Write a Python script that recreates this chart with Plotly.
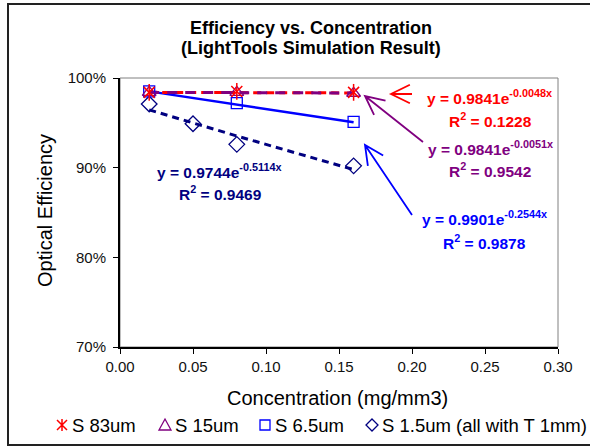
import math
import numpy as np
import plotly.graph_objects as go

# ---------------- data ----------------
x_83 = [0.02, 0.08, 0.16]
y_83 = [0.984, 0.985, 0.984]
x_15 = [0.02, 0.08, 0.16]
y_15 = [0.984, 0.984, 0.983]
x_65 = [0.02, 0.08, 0.16]
y_65 = [0.985, 0.972, 0.951]
x_15s = [0.02, 0.05, 0.08, 0.16]
y_15s = [0.971, 0.949, 0.926, 0.902]

series_names = ["S 83um", "S 15um", "S 6.5um", "S 1.5um (all with T 1mm)"]
# exponential trendline parameters as printed on the chart: y = a * e^(b x)
fit_a = [0.9841, 0.9841, 0.9901, 0.9744]
fit_b = [-0.0048, -0.0051, -0.2544, -0.5114]
fit_r2 = ["0.1228", "0.9542", "0.9878", "0.9469"]

x_ticks = [0.00, 0.05, 0.10, 0.15, 0.20, 0.25, 0.30]
y_ticks = [0.70, 0.80, 0.90, 1.00]
X_RANGE = [0.0, 0.30]
Y_RANGE = [0.70, 1.00]

RED, PURPLE, BLUE, NAVY = "#FF0000", "#800080", "#0000FF", "#000080"
FONT = "Arial, Liberation Sans, sans-serif"

W, H = 590, 446
L, R, T, B = 120, 32, 78, 99
PW, PH = W - L - R, H - T - B


def px(xp):
    return (xp - L) / PW


def py(yp):
    return (H - B - yp) / PH


fig = go.Figure()


def trend(xs, i, color, dash, width):
    xs = np.array(xs)
    ys = fit_a[i] * np.exp(fit_b[i] * xs)
    fig.add_trace(go.Scatter(x=xs, y=ys, mode="lines", showlegend=False,
                             line=dict(color=color, dash=dash, width=width),
                             hoverinfo="skip"))

trend(x_65, 2, BLUE, "solid", 2.5)
trend(x_15s, 3, NAVY, "7px,5px", 3)
trend(x_83, 0, RED, "8px,5px", 3)
trend(x_15, 1, PURPLE, "10px,8px", 3)

MK = {
    "diamond": dict(symbol="diamond-open", size=12, color=NAVY, line=dict(width=1.3, color=NAVY)),
    "square": dict(symbol="square-open", size=11, color=BLUE, line=dict(width=1.3, color=BLUE)),
    "triangle": dict(symbol="triangle-up-open", size=12, color=PURPLE, line=dict(width=1.3, color=PURPLE)),
    "x": dict(symbol="x-thin-open", size=11, color=RED, line=dict(width=1.5, color=RED)),
    "bar": dict(symbol="line-ns-open", size=12, color=RED, line=dict(width=1.5, color=RED)),
}

fig.add_trace(go.Scatter(x=x_15s, y=y_15s, mode="markers", name=series_names[3], marker=MK["diamond"]))
fig.add_trace(go.Scatter(x=x_65, y=y_65, mode="markers", name=series_names[2], marker=MK["square"]))
fig.add_trace(go.Scatter(x=x_15, y=y_15, mode="markers", name=series_names[1], marker=MK["triangle"]))
fig.add_trace(go.Scatter(x=x_83, y=y_83, mode="markers", name=series_names[0], marker=MK["x"]))
fig.add_trace(go.Scatter(x=x_83, y=y_83, mode="markers", showlegend=False, marker=MK["bar"]))

shapes = []
# outer chart border (its right edge lies outside the picture)
shapes.append(dict(type="path", xref="paper", yref="paper",
                   path=(f"M {px(700)},{py(4)} L {px(8)},{py(4)} L {px(8)},{py(445)} "
                         f"L {px(700)},{py(445)}"),
                   line=dict(color="#222222", width=2), layer="below"))
# plot area border
shapes.append(dict(type="rect", xref="paper", yref="paper",
                   x0=0, x1=1, y0=0, y1=1,
                   line=dict(color="#808080", width=1), layer="below"))


def path_shape(points_list, color, width=1.3, closed=False):
    parts = []
    for pts in points_list:
        seg = "M " + " L ".join(f"{px(a)},{py(b)}" for a, b in pts)
        if closed:
            seg += " Z"
        parts.append(seg)
    shapes.append(dict(type="path", xref="paper", yref="paper", path=" ".join(parts),
                       line=dict(color=color, width=width)))


def arrow(tip, tail, color, length=21, ang=26):
    tx, ty = tip
    sx, sy = tail
    d = math.atan2(sy - ty, sx - tx)
    arms = []
    for s in (1, -1):
        a = d + s * math.radians(ang)
        arms.append((tx + length * math.cos(a), ty + length * math.sin(a)))
    path_shape([[(sx, sy), (tx, ty)], [arms[0], (tx, ty), arms[1]]], color, width=1.8)

arrow((391, 94), (412, 94), RED)
arrow((365, 96), (423, 142), PURPLE)
arrow((365, 145), (412, 215), BLUE)

# ---------- legend (keys as small shapes, texts as annotations) ----------
leg_y = 425
leg_sym_x = [62, 165, 265, 372]
r = 5
cx, cy = leg_sym_x[0], leg_y
path_shape([[(cx - r, cy - r), (cx + r, cy + r)], [(cx - r, cy + r), (cx + r, cy - r)],
            [(cx, cy - r - 1), (cx, cy + r + 1)]], RED, 1.5)
cx = leg_sym_x[1]
path_shape([[(cx, cy - 6), (cx + 6, cy + 5), (cx - 6, cy + 5)]], PURPLE, 1.3, closed=True)
cx = leg_sym_x[2]
path_shape([[(cx - 5, cy - 5), (cx + 5, cy - 5), (cx + 5, cy + 5), (cx - 5, cy + 5)]], BLUE, 1.3, closed=True)
cx = leg_sym_x[3]
path_shape([[(cx, cy - 6), (cx + 6, cy), (cx, cy + 6), (cx - 6, cy)]], NAVY, 1.3, closed=True)

annotations = []


def text_at(cx, cy, text, color, size, xanchor="center", angle=0):
    annotations.append(dict(x=px(cx), y=py(cy), xref="paper", yref="paper",
                            text=text, showarrow=False, textangle=angle,
                            xanchor=xanchor, yanchor="middle",
                            font=dict(family=FONT, size=size, color=color)))


def eq(i):
    return f"<b>y = {fit_a[i]:.4f}e<sup>{fit_b[i]:.4f}x</sup></b>"


def r2(i):
    return f"<b>R<sup>2</sup> = {fit_r2[i]}</b>"


EQ = 15.5
text_at(489, 97, eq(0), RED, EQ)
text_at(490, 120, r2(0), RED, EQ)
text_at(490, 148, eq(1), PURPLE, EQ)
text_at(490, 170, r2(1), PURPLE, EQ)
text_at(484, 218, eq(2), BLUE, EQ)
text_at(484, 242, r2(2), BLUE, EQ)
text_at(219, 171, eq(3), NAVY, EQ)
text_at(220, 193, r2(3), NAVY, EQ)

# title
text_at(311, 28, "<b>Efficiency vs. Concentration</b>", "#000000", 18)
text_at(311, 48, "<b>(LightTools Simulation Result)</b>", "#000000", 18)

# axis titles
text_at(337, 398, "Concentration (mg/mm3)", "#000000", 20)
text_at(45, 211, "Optical Efficiency", "#000000", 20, angle=-90)

# legend texts
for sx, name in zip(leg_sym_x, series_names):
    text_at(sx + 8, leg_y, name, "#000000", 18.5, xanchor="left")

fig.update_layout(
    width=W, height=H,
    margin=dict(l=L, r=R, t=T, b=B),
    paper_bgcolor="white", plot_bgcolor="white",
    font=dict(family=FONT, size=13, color="#000000"),
    shapes=shapes, annotations=annotations,
    showlegend=False,
    xaxis=dict(range=X_RANGE, tickvals=x_ticks, tickformat=".2f", automargin=False,
               showgrid=False, zeroline=False, showline=True, linecolor="#000000",
               linewidth=2, ticks="outside", ticklen=5, tickcolor="#000000",
               tickfont=dict(family=FONT, size=15, color="#111111")),
    yaxis=dict(range=Y_RANGE, tickvals=y_ticks, tickformat=".0%", automargin=False,
               showgrid=False, zeroline=False, showline=True, linecolor="#000000",
               linewidth=2, ticks="outside", ticklen=5, tickcolor="#000000",
               ticklabelstandoff=4,
               tickfont=dict(family=FONT, size=15, color="#111111")),
)

fig.write_html("out.html", config={"displayModeBar": False},
               post_script="document.body.style.margin='0';")
